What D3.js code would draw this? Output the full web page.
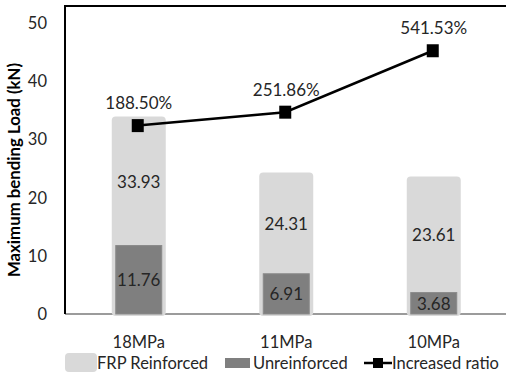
<!DOCTYPE html>
<html>
<head>
<meta charset="utf-8">
<script src="https://cdn.jsdelivr.net/npm/d3@7"></script>
<style>
  html, body { margin: 0; padding: 0; background: #fff; }
  svg { display: block; font-family: Lato, "Noto Sans", sans-serif; }
</style>
</head>
<body>
<svg id="chart" width="506" height="377"></svg>
<script>
// Concrete strength groups and measured bending loads (kN)
const categories = ["18MPa", "11MPa", "10MPa"];
const frpReinforced = [33.93, 24.31, 23.61];
const unreinforced = [11.76, 6.91, 3.68];
// Increase of reinforced over unreinforced load (%)
const increasedRatio = [188.50, 251.86, 541.53];
const yTicks = [0, 10, 20, 30, 40, 50];
const legendLabels = ["FRP Reinforced", "Unreinforced", "Increased ratio"];

const svg = d3.select("#chart");
const plot = { left: 65, right: 507.5, top: 6, bottom: 314 };

const x = d3.scaleBand().domain(categories).range([plot.left, plot.right]).padding(0);
const y = d3.scaleLinear().domain([0, 50]).range([plot.bottom, 23]);
// secondary (hidden) axis for the ratio line
const y2 = d3.scaleLinear().domain([-700, 663]).range([plot.bottom, 25]);

const lightW = 54, darkW = 46;
const lightColor = "#d9d9d9", darkColor = "#7f7f7f", textColor = "#262626";

// category axis line
svg.append("line")
  .attr("x1", plot.left).attr("x2", 506)
  .attr("y1", plot.bottom).attr("y2", plot.bottom)
  .attr("stroke", "#7a7a7a").attr("stroke-width", 1.5);

// FRP reinforced bars (rounded, sitting over the axis line)
svg.append("g").selectAll("rect")
  .data(categories)
  .join("rect")
  .attr("x", d => x(d) + x.bandwidth() / 2 - lightW / 2)
  .attr("y", (d, i) => y(frpReinforced[i]))
  .attr("width", lightW)
  .attr("height", (d, i) => plot.bottom + 2 - y(frpReinforced[i]))
  .attr("rx", 4)
  .attr("fill", lightColor);

// unreinforced bars in front
svg.append("g").selectAll("rect")
  .data(categories)
  .join("rect")
  .attr("x", d => x(d) + x.bandwidth() / 2 - darkW / 2)
  .attr("y", (d, i) => y(unreinforced[i]))
  .attr("width", darkW)
  .attr("height", (d, i) => plot.bottom - y(unreinforced[i]))
  .attr("fill", darkColor)
  .attr("stroke", "#8a8a8a")
  .attr("stroke-width", 1);

// frame: value axis on the left, border on top
svg.append("line")
  .attr("x1", plot.left).attr("x2", plot.left)
  .attr("y1", plot.top).attr("y2", plot.bottom)
  .attr("stroke", "#000").attr("stroke-width", 2);
svg.append("line")
  .attr("x1", plot.left - 1).attr("x2", 506)
  .attr("y1", plot.top).attr("y2", plot.top)
  .attr("stroke", "#000").attr("stroke-width", 2);

// value labels
svg.append("g").selectAll("text")
  .data(categories)
  .join("text")
  .attr("x", d => x(d) + x.bandwidth() / 2)
  .attr("y", (d, i) => (y(frpReinforced[i]) + y(unreinforced[i])) / 2)
  .attr("text-anchor", "middle")
  .attr("dominant-baseline", "central")
  .attr("font-size", 17)
  .attr("fill", textColor)
  .text((d, i) => frpReinforced[i].toFixed(2));

svg.append("g").selectAll("text")
  .data(categories)
  .join("text")
  .attr("x", d => x(d) + x.bandwidth() / 2)
  .attr("y", (d, i) => (y(unreinforced[i]) + y(0)) / 2)
  .attr("text-anchor", "middle")
  .attr("dominant-baseline", "central")
  .attr("font-size", 17)
  .attr("fill", textColor)
  .text((d, i) => unreinforced[i].toFixed(2));

// increased-ratio line with square markers
const pts = categories.map((c, i) => [x(c) + x.bandwidth() / 2 - 1, y2(increasedRatio[i])]);
svg.append("path")
  .attr("d", d3.line()(pts))
  .attr("fill", "none")
  .attr("stroke", "#000")
  .attr("stroke-width", 2.5);
svg.append("g").selectAll("rect")
  .data(pts)
  .join("rect")
  .attr("x", d => d[0] - 6)
  .attr("y", d => d[1] - 6.5)
  .attr("width", 12)
  .attr("height", 13)
  .attr("fill", "#000");
svg.append("g").selectAll("text")
  .data(pts)
  .join("text")
  .attr("x", d => d[0] + 1)
  .attr("y", d => d[1] - 23)
  .attr("text-anchor", "middle")
  .attr("dominant-baseline", "central")
  .attr("font-size", 17)
  .attr("fill", textColor)
  .text((d, i) => increasedRatio[i].toFixed(2) + "%");

// y tick labels
svg.append("g").selectAll("text")
  .data(yTicks)
  .join("text")
  .attr("x", 47)
  .attr("y", d => y(d))
  .attr("text-anchor", "end")
  .attr("dominant-baseline", "central")
  .attr("font-size", 16.5)
  .attr("fill", textColor)
  .text(d => d);

// category labels
svg.append("g").selectAll("text")
  .data(categories)
  .join("text")
  .attr("x", d => x(d) + x.bandwidth() / 2)
  .attr("y", 342)
  .attr("text-anchor", "middle")
  .attr("dominant-baseline", "central")
  .attr("font-size", 16.5)
  .attr("fill", textColor)
  .text(d => d);

// value axis title
svg.append("text")
  .attr("transform", `translate(13,170) rotate(-90)`)
  .attr("text-anchor", "middle")
  .attr("dominant-baseline", "central")
  .attr("font-size", 16.8)
  .attr("font-weight", "bold")
  .attr("fill", "#000")
  .text("Maximum bending Load (kN)");

// legend
const lg = svg.append("g");
const ly = 363;
lg.append("rect").attr("x", 65).attr("y", ly - 10).attr("width", 32).attr("height", 19)
  .attr("rx", 4).attr("fill", lightColor);
lg.append("text").attr("x", 97).attr("y", ly).attr("dominant-baseline", "central")
  .attr("font-size", 16.5).attr("fill", textColor).text(legendLabels[0]);
lg.append("rect").attr("x", 225).attr("y", ly - 5).attr("width", 25).attr("height", 10)
  .attr("fill", darkColor);
lg.append("text").attr("x", 253).attr("y", ly).attr("dominant-baseline", "central")
  .attr("font-size", 16.5).attr("fill", textColor).text(legendLabels[1]);
lg.append("line").attr("x1", 364).attr("x2", 392).attr("y1", ly).attr("y2", ly)
  .attr("stroke", "#000").attr("stroke-width", 2.5);
lg.append("rect").attr("x", 373).attr("y", ly - 5).attr("width", 10).attr("height", 10)
  .attr("fill", "#000");
lg.append("text").attr("x", 392).attr("y", ly).attr("dominant-baseline", "central")
  .attr("font-size", 16.5).attr("fill", textColor).text(legendLabels[2]);
</script>
</body>
</html>
